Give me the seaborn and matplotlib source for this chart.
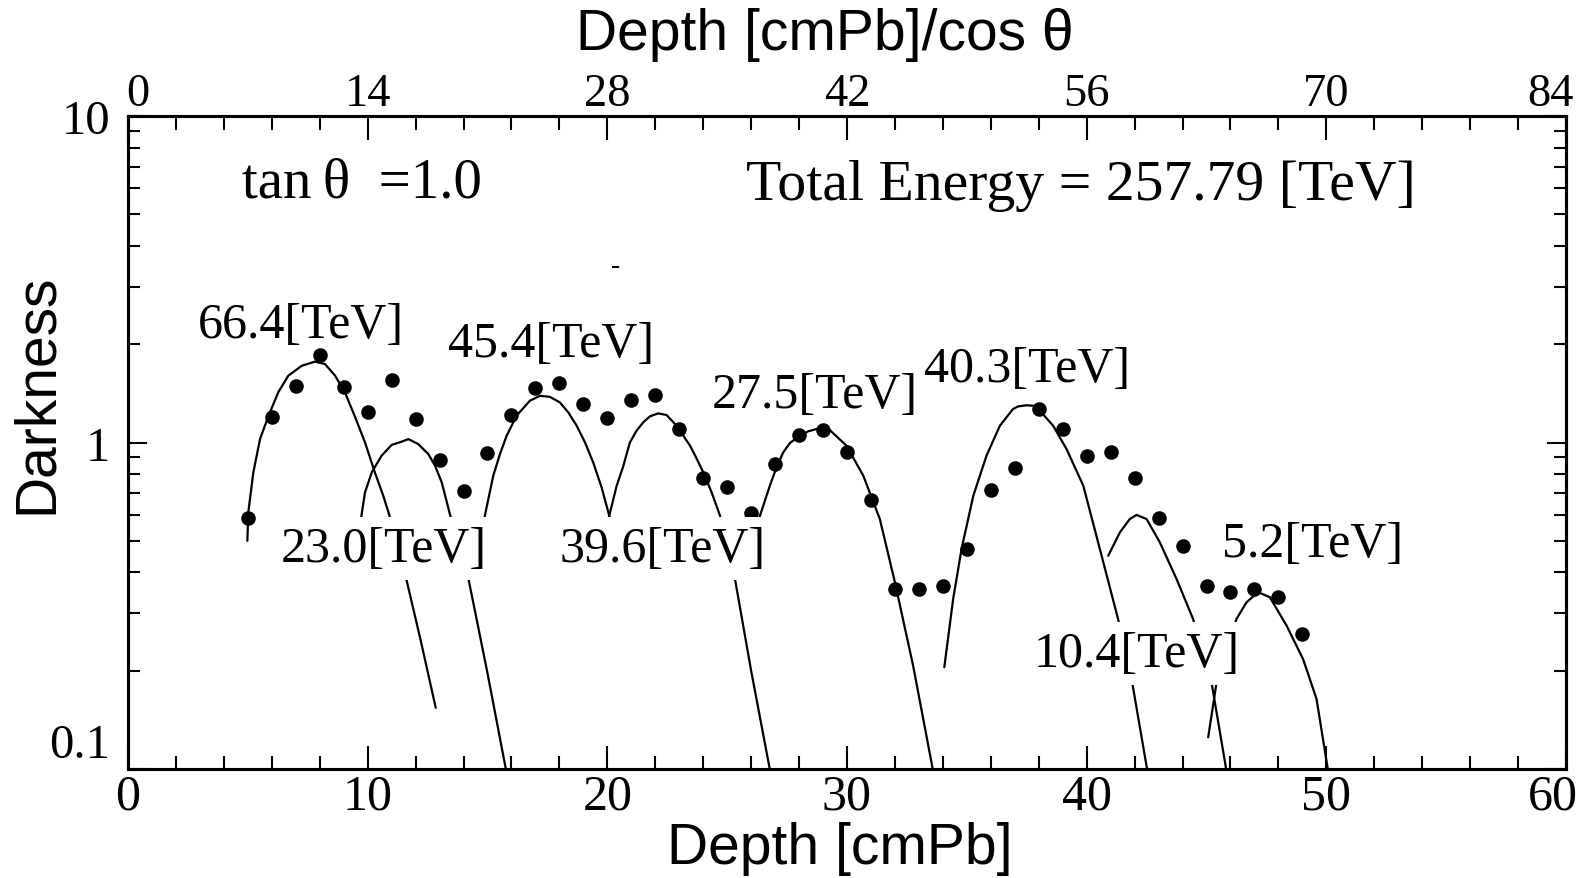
import matplotlib
matplotlib.use("Agg")
import matplotlib.pyplot as plt
import matplotlib.transforms as mtransforms
import numpy as np
import pandas as pd
import seaborn as sns
from matplotlib import font_manager
from matplotlib.ticker import MultipleLocator, LogLocator, FixedLocator, FixedFormatter, NullFormatter

# ---------------- data ----------------
depth = list(range(5, 50))
darkness = [0.586, 1.20, 1.49, 1.86, 1.48, 1.24, 1.55, 1.18, 0.886, 0.712,
            0.93, 1.21, 1.47, 1.52, 1.31, 1.19, 1.35, 1.40, 1.10, 0.78,
            0.73, 0.607, 0.859, 1.054, 1.094, 0.937, 0.667, 0.356, 0.356, 0.363,
            0.472, 0.717, 0.835, 1.267, 1.10, 0.911, 0.933, 0.778, 0.587, 0.483,
            0.364, 0.348, 0.356, 0.337, 0.260]

c1_x = [4.98, 5.02, 5.23, 5.51, 5.85, 6.27, 6.69, 7.25, 7.8, 8.22, 8.64, 9.05, 9.47, 9.89, 10.3, 10.65, 10.89, 11.6, 12.2, 12.84]
c1_y = [0.50, 0.611, 0.810, 1.025, 1.20, 1.425, 1.602, 1.718, 1.769, 1.739, 1.602, 1.425, 1.20, 1.0, 0.810, 0.687, 0.604, 0.385, 0.25, 0.154]
c2_x = [9.7, 9.75, 9.89, 10.17, 10.58, 11.0, 11.42, 11.7, 12.11, 12.53, 12.81, 13.09, 13.43, 14.2, 14.98, 15.8]
c2_y = [0.56, 0.604, 0.704, 0.810, 0.911, 0.983, 1.006, 1.024, 0.989, 0.922, 0.849, 0.755, 0.604, 0.384, 0.2, 0.097]
c3_x = [14.85, 14.89, 15.24, 15.52, 15.8, 16.22, 16.77, 17.19, 17.6, 18.02, 18.37, 18.72, 19.07, 19.41, 19.76, 20.08, 20.2]
c3_y = [0.56, 0.597, 0.791, 0.922, 1.049, 1.21, 1.343, 1.39, 1.38, 1.327, 1.237, 1.126, 1.0, 0.869, 0.729, 0.597, 0.55]
c4_x = [19.95, 20.08, 20.39, 20.67, 20.94, 21.22, 21.5, 21.78, 22.12, 22.47, 22.89, 23.17, 23.45, 23.72, 24.0, 24.35, 24.7, 25.32, 26.0, 26.8]
c4_y = [0.55, 0.597, 0.737, 0.849, 1.0, 1.087, 1.153, 1.203, 1.228, 1.214, 1.126, 1.049, 0.978, 0.895, 0.811, 0.704, 0.597, 0.384, 0.2, 0.098]
c5_x = [26.3, 26.37, 26.78, 27.06, 27.34, 27.62, 28.03, 28.38, 28.73, 29.0, 29.29, 29.98, 30.68, 31.37, 32.0, 32.76, 33.6]
c5_y = [0.56, 0.597, 0.737, 0.839, 0.933, 0.997, 1.049, 1.082, 1.10, 1.105, 1.09, 0.978, 0.791, 0.583, 0.373, 0.207, 0.098]
c6_x = [34.06, 34.43, 34.78, 35.27, 35.82, 36.38, 36.93, 37.14, 37.49, 37.77, 38.05, 38.6, 39.16, 39.86, 40.55, 41.31, 41.9, 42.54]
c6_y = [0.205, 0.332, 0.472, 0.687, 0.911, 1.126, 1.267, 1.29, 1.30, 1.296, 1.25, 1.126, 0.955, 0.737, 0.472, 0.288, 0.184, 0.098]
c7_x = [40.9, 41.39, 41.8, 42.08, 42.5, 43.05, 43.75, 44.44, 45.21, 45.84]
c7_y = [0.450, 0.531, 0.583, 0.600, 0.583, 0.495, 0.382, 0.288, 0.184, 0.098]
c8_x = [45.07, 45.42, 46.25, 46.67, 47.15, 47.64, 48.34, 49.03, 49.59, 50.08]
c8_y = [0.125, 0.184, 0.288, 0.324, 0.348, 0.336, 0.275, 0.217, 0.164, 0.098]

curve_names = ["66.4", "23.0", "45.4", "39.6", "27.5", "40.3", "10.4", "5.2"]
curves_x = [c1_x, c2_x, c3_x, c4_x, c5_x, c6_x, c7_x, c8_x]
curves_y = [c1_y, c2_y, c3_y, c4_y, c5_y, c6_y, c7_y, c8_y]

# energy labels: text, x, baseline y, boxed (white background hiding curves)
label_texts = ["66.4[TeV]", "45.4[TeV]", "27.5[TeV]", "40.3[TeV]",
               "23.0[TeV]", "39.6[TeV]", "10.4[TeV]", "5.2[TeV]"]
label_x = [7.22, 17.67, 28.66, 37.52, 10.68, 22.32, 42.07, 49.44]
label_y = [2.10, 1.836, 1.282, 1.546, 0.4345, 0.4345, 0.2072, 0.450]
label_boxed = [False, False, False, False, True, True, True, False]

y_ticks = [0.1, 1, 10]
y_ticklabels = ["0.1", "1", "10"]

# ---------------- style ----------------
sns.set_theme(style="white")
plt.rcParams["font.family"] = ["Liberation Serif", "DejaVu Serif"]
names = {f.name for f in font_manager.fontManager.ttflist}
if "Liberation Sans Narrow" in names:
    sans = ["Liberation Sans Narrow", "DejaVu Sans"]
    sans_size = 50
else:
    sans = ["Liberation Sans", "DejaVu Sans"]
    sans_size = 41

fig = plt.figure(figsize=(15.92, 8.79), dpi=100)
fig.patch.set_facecolor("white")
ax = fig.add_axes([0.0804, 0.124, 0.90327, 0.74289])
ax.set_facecolor("white")
ax.set_yscale("log")

# curves
rows = []
for name, xs, ys in zip(curve_names, curves_x, curves_y):
    for i, (xv, yv) in enumerate(zip(xs, ys)):
        rows.append({"curve": name, "order": i, "depth": xv, "darkness": yv})
curve_df = pd.DataFrame(rows)
sns.lineplot(data=curve_df, x="depth", y="darkness", units="curve", estimator=None,
             sort=False, color="black", linewidth=1.6, ax=ax, zorder=2)

# data points
pts = pd.DataFrame({"depth": depth, "darkness": darkness})
sns.scatterplot(data=pts, x="depth", y="darkness", color="black", s=110,
                linewidth=0, ax=ax, zorder=3)

ax.set_xlim(0, 60)
ax.set_ylim(0.1, 10)

# labels
for t, xv, yv, boxed in zip(label_texts, label_x, label_y, label_boxed):
    kw = {}
    if boxed:
        kw["bbox"] = dict(boxstyle="square,pad=0.17", facecolor="white", edgecolor="none")
    ax.text(xv, yv, t, ha="center", va="baseline", fontsize=36, color="black",
            zorder=5, **kw)

ax.text(4.74, 5.65, "tan\u2009θ  =1.0", ha="left", va="baseline", fontsize=41, color="black")
ax.text(25.78, 5.57, "Total Energy = 257.79 [TeV]", ha="left", va="baseline",
        fontsize=41.6, color="black")
ax.text(20.36, 3.33, "-", ha="center", va="baseline", fontsize=20, color="black")

# axes styling
for sp in ax.spines.values():
    sp.set_linewidth(2.2)
    sp.set_color("black")

ax.xaxis.set_major_locator(MultipleLocator(10))
ax.xaxis.set_minor_locator(MultipleLocator(2))
ax.yaxis.set_major_locator(FixedLocator(y_ticks))
ax.yaxis.set_major_formatter(FixedFormatter(y_ticklabels))
ax.yaxis.set_minor_locator(LogLocator(base=10, subs=range(2, 10)))
ax.yaxis.set_minor_formatter(NullFormatter())

ax.tick_params(axis="x", which="major", direction="in", length=16.5, width=1.5,
               labelsize=36, pad=3, top=False, bottom=True, colors="black")
ax.tick_params(axis="x", which="minor", direction="in", length=9.4, width=1.5,
               top=False, bottom=True, colors="black")
ax.tick_params(axis="y", which="major", direction="in", length=13.7, width=1.5,
               labelsize=35, pad=13, left=True, right=True, labelright=False, colors="black")
ax.tick_params(axis="y", which="minor", direction="in", length=8.6, width=1.5,
               left=True, right=True, colors="black")

ax.set_xlabel("Depth [cmPb]", fontsize=sans_size, family=sans, va="center", color="black")
ax.xaxis.set_label_coords(0.4951, -0.1217)
ax.set_ylabel("Darkness", fontsize=sans_size, family=sans, va="center", ha="center", color="black")
ax.yaxis.set_label_coords(-0.0633, 0.5766)

# top axis
ax2 = ax.twiny()
ax2.set_xlim(0, 84)
ax2.xaxis.set_major_locator(MultipleLocator(14))
ax2.xaxis.set_minor_locator(MultipleLocator(2.8))
ax2.tick_params(axis="x", which="major", direction="in", length=17, width=1.5,
                labelsize=33.5, pad=1, top=True, bottom=False, colors="black")
ax2.tick_params(axis="x", which="minor", direction="in", length=10, width=1.5,
                top=True, bottom=False, colors="black")
for sp in ax2.spines.values():
    sp.set_linewidth(2.2)
    sp.set_color("black")
ax2.set_xlabel("Depth [cmPb]/cos θ", fontsize=sans_size, family=sans, va="center", color="black")
ax2.xaxis.set_label_coords(0.4847, 1.1256)

# small nudges of edge tick labels as in the original figure
fig.canvas.draw()


def nudge(label, dx_px, dy_px):
    off = mtransforms.ScaledTranslation(dx_px / 100.0, dy_px / 100.0, fig.dpi_scale_trans)
    label.set_transform(label.get_transform() + off)


for t in ax2.xaxis.get_major_ticks():
    if np.isclose(t.get_loc(), 0):
        nudge(t.label2, 10, 0)
    elif np.isclose(t.get_loc(), 84):
        nudge(t.label2, -16, 0)
for t in ax.xaxis.get_major_ticks():
    if np.isclose(t.get_loc(), 60):
        nudge(t.label1, -13, 0)
for t in ax.yaxis.get_major_ticks():
    if np.isclose(t.get_loc(), 0.1):
        nudge(t.label1, 0, 29)

fig.savefig("out.png", dpi=100, facecolor="white")
